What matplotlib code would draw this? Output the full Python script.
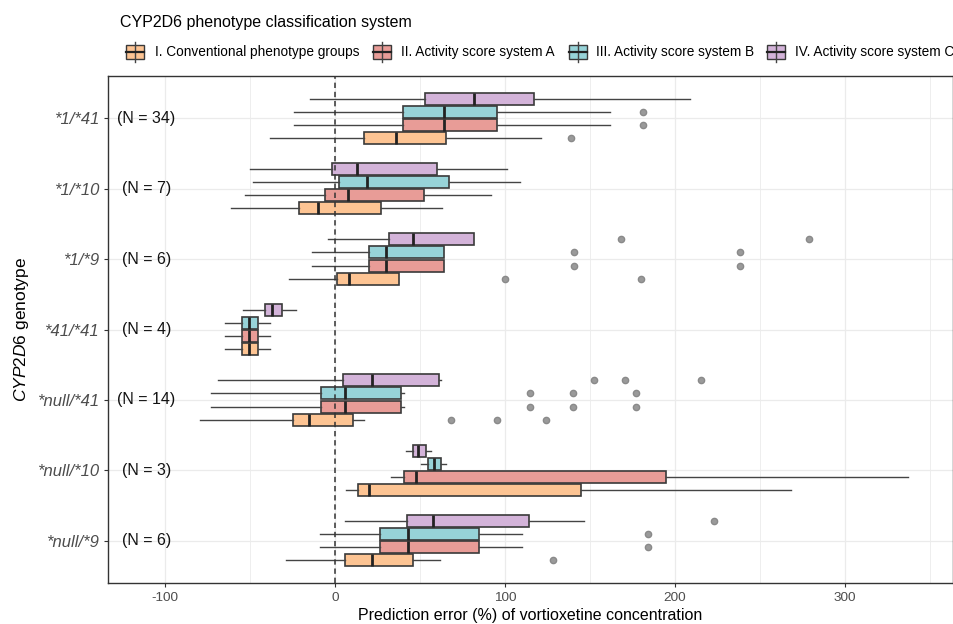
import matplotlib.pyplot as plt
from matplotlib.patches import Rectangle
from matplotlib.lines import Line2D

plt.rcParams['font.family'] = ['Liberation Sans', 'DejaVu Sans']
plt.rcParams['mathtext.fontset'] = 'custom'
plt.rcParams['mathtext.rm'] = 'Liberation Sans'
plt.rcParams['mathtext.it'] = 'Liberation Sans:italic'
plt.rcParams['axes.unicode_minus'] = False

# genotypes, top to bottom
genotypes = ['*1/*41', '*1/*10', '*1/*9', '*41/*41', '*null/*41', '*null/*10', '*null/*9']
n_counts = [34, 7, 6, 4, 14, 3, 6]

systems = ['I. Conventional phenotype groups', 'II. Activity score system A',
           'III. Activity score system B', 'IV. Activity score system C']
colors = ['#FDC493', '#E89C97', '#97D3D8', '#D3B3D9']

# (whisker low, q1, median, q3, whisker high) per genotype
conv = [[-38, 17, 36, 65, 121], [-61, -21, -10, 27, 63], [-27, 1, 8, 37.5, 37.5],
        [-65, -55, -50.5, -45.5, -38], [-79.5, -25, -15.6, 10.8, 17.3],
        [6.7, 13.4, 19.7, 144.6, 268], [-29, 6, 22, 46, 62]]
conv_out = [[139], [], [100, 180], [], [68, 95, 124], [], [128]]

act_a = [[-24, 40, 64, 95.5, 162], [-53, -6, 7.5, 52.5, 92], [-13.6, 20, 30, 64, 64],
         [-65, -55, -50.5, -45.5, -38], [-73, -8.5, 5.7, 38.6, 40.4],
         [33, 40.6, 47.8, 195, 337], [-9, 26.6, 42.8, 84.6, 110]]
act_a_out = [[181], [], [140.6, 238], [], [115, 140, 177], [], [184]]

act_b = [[-24, 40, 64, 95.5, 162], [-48, 2.5, 19, 67, 109], [-13.6, 20, 30, 64, 64],
         [-65, -55, -50.5, -45.5, -38], [-73, -8.5, 5.7, 38.6, 40.4],
         [50.7, 54.6, 58.4, 62.5, 65.3], [-9, 26.6, 42.8, 84.6, 110]]
act_b_out = [[181], [], [140.6, 238], [], [115, 140, 177], [], [184]]

act_c = [[-15, 53, 82, 117, 209], [-50, -2, 13, 60, 101], [-4, 32, 45.6, 82, 82],
         [-54, -41.4, -37, -31.4, -23], [-69, 4.5, 21.7, 61, 62.5],
         [42, 45.7, 48.7, 53.4, 56.6], [6, 42.6, 57.6, 114, 146.7]]
act_c_out = [[], [], [168, 279], [], [152.5, 170.6, 215.5], [], [223]]

all_data = [(conv, conv_out), (act_a, act_a_out), (act_b, act_b_out), (act_c, act_c_out)]
offsets = [0.28, 0.094, -0.094, -0.28]

fig = plt.figure(figsize=(9.54, 6.24), dpi=100)
ax = fig.add_axes([108 / 954, 41 / 624, 845 / 954, 507 / 624])

for k, (vals, outs) in enumerate(all_data):
    stats = []
    for v, o in zip(vals, outs):
        stats.append(dict(whislo=v[0], q1=v[1], med=v[2], q3=v[3], whishi=v[4], fliers=o))
    pos = [i + offsets[k] for i in range(len(genotypes))]
    ax.bxp(stats, positions=pos, widths=0.17, orientation='horizontal',
           patch_artist=True, showcaps=False, manage_ticks=False,
           boxprops=dict(facecolor=colors[k], edgecolor='#3a3a3a', linewidth=1.2),
           medianprops=dict(color='#222222', linewidth=2.0),
           whiskerprops=dict(color='#444444', linewidth=1.0),
           flierprops=dict(marker='o', markerfacecolor='#9a9a9a',
                           markeredgecolor='#8a8a8a', markersize=4.5))

ax.axvline(0, color='#333333', linestyle=(0, (3.5, 2.5)), linewidth=1.1, zorder=4)

for i, n in enumerate(n_counts):
    ax.text(-111, i, f'(N = {n})', ha='center', va='center', fontsize=11.5, color='#111111')

ax.set_xlim(-133.6, 363.6)
ax.set_ylim(6.6, -0.6)
ax.set_xticks([-100, 0, 100, 200, 300])
ax.set_xticks([-50, 50, 150, 250, 350], minor=True)
ax.set_yticks(range(len(genotypes)))
ax.set_yticklabels(genotypes, fontstyle='italic', fontsize=12, color='#4d4d4d')
ax.tick_params(axis='x', labelsize=9.7, labelcolor='#4d4d4d', color='#333333', length=3)
ax.tick_params(axis='y', color='#333333', length=3)
ax.tick_params(which='minor', length=0)
ax.grid(which='major', color='#ebebeb', linewidth=0.9)
ax.grid(which='minor', axis='x', color='#ebebeb', linewidth=0.6)
ax.set_axisbelow(True)
for s in ax.spines.values():
    s.set_color('#333333')
    s.set_linewidth(1.0)

ax.set_xlabel('Prediction error (%) of vortioxetine concentration', fontsize=11.5, labelpad=3)
ax.set_ylabel(r'$\mathit{CYP2D6}$ genotype', fontsize=12.5, labelpad=4)

# legend drawn in figure pixels
fig.text(120 / 954, 1 - 22 / 624, 'CYP2D6 phenotype classification system',
         fontsize=11.5, va='center', ha='left')
key_x = [135, 382, 578, 776]
text_x = [155, 401, 596, 795]
key_y = 624 - 52
for k in range(4):
    cx = key_x[k]
    fig.add_artist(Line2D([cx / 954, cx / 954], [(key_y - 10) / 624, (key_y + 10) / 624],
                          color='#444444', linewidth=1.0))
    fig.add_artist(Rectangle(((cx - 9) / 954, (key_y - 7) / 624), 18 / 954, 14 / 624,
                             facecolor=colors[k], edgecolor='#3a3a3a', linewidth=1.0))
    fig.add_artist(Line2D([(cx - 9) / 954, (cx + 9) / 954], [key_y / 624, key_y / 624],
                          color='#222222', linewidth=1.6))
    fig.text(text_x[k] / 954, key_y / 624, systems[k], fontsize=9.8, va='center', ha='left')

fig.savefig('out.png', dpi=100)
